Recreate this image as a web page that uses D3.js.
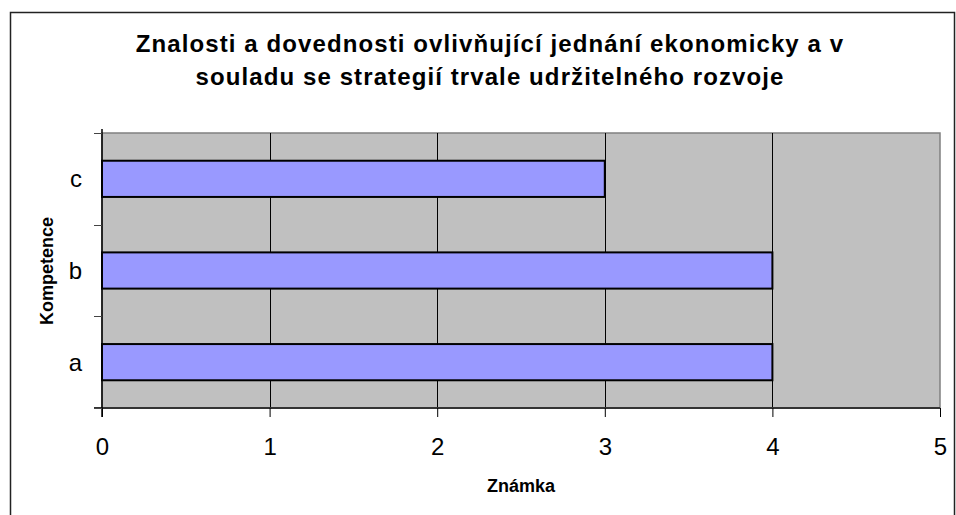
<!DOCTYPE html>
<html>
<head>
<meta charset="utf-8">
<script src="https://cdn.jsdelivr.net/npm/d3@7"></script>
<style>
  body { margin: 0; background: #fff; }
  text { font-family: "Liberation Sans", Arial, sans-serif; }
</style>
</head>
<body>
<div id="chart"></div>
<script>
// data
var categories = ["a", "b", "c"];
var values = [4, 4, 3];
var xTicks = [0, 1, 2, 3, 4, 5];
var titleLines = ["Znalosti a dovednosti ovlivňující jednání ekonomicky a v",
                  "souladu se strategií trvale udržitelného rozvoje"];

var W = 956, H = 515;
var plot = {left: 102, right: 940, top: 133, bottom: 408};

var svg = d3.select("#chart").append("svg")
    .attr("width", W)
    .attr("height", H);

// outer frame
svg.append("rect")
    .attr("x", 10.5).attr("y", 12.5)
    .attr("width", 944).attr("height", 520)
    .attr("fill", "#fff")
    .attr("stroke", "#222")
    .attr("stroke-width", 1.5);

// title
svg.append("g").selectAll("text")
    .data(titleLines)
    .enter()
    .append("text")
      .attr("x", 490)
      .attr("y", function(d, i) { return 52 + i * 33; })
      .attr("text-anchor", "middle")
      .attr("font-size", "24px")
      .attr("font-weight", "bold")
      .attr("letter-spacing", "1.1px")
      .text(function(d) { return d; });

// scales
var x = d3.scaleLinear()
    .domain([0, 5])
    .range([plot.left, plot.right]);

var y = d3.scaleBand()
    .domain(categories.slice().reverse())
    .range([plot.top, plot.bottom])
    .paddingInner(0.605)
    .paddingOuter(0.3025);

// plot background
svg.append("rect")
    .attr("x", plot.left).attr("y", plot.top)
    .attr("width", plot.right - plot.left)
    .attr("height", plot.bottom - plot.top)
    .attr("fill", "#c0c0c0")
    .attr("stroke", "#808080")
    .attr("stroke-width", 1.5);

// vertical gridlines
svg.append("g").selectAll("line")
    .data(xTicks.slice(1, -1))
    .enter()
    .append("line")
      .attr("x1", function(d) { return Math.round(x(d)) + 0.5; })
      .attr("x2", function(d) { return Math.round(x(d)) + 0.5; })
      .attr("y1", plot.top)
      .attr("y2", plot.bottom)
      .attr("stroke", "#000")
      .attr("stroke-width", 1);

// bars
svg.append("g").selectAll("rect")
    .data(categories)
    .enter()
    .append("rect")
      .attr("x", x(0))
      .attr("y", function(d) { return y(d); })
      .attr("width", function(d, i) { return x(values[i]) - x(0); })
      .attr("height", y.bandwidth())
      .attr("fill", "#9999ff")
      .attr("stroke", "#000")
      .attr("stroke-width", 2);

// x axis
var xAxis = svg.append("g")
    .attr("transform", "translate(0," + plot.bottom + ")")
    .call(d3.axisBottom(x).tickValues(xTicks).tickFormat(d3.format("d"))
      .tickSize(9).tickPadding(21).tickSizeOuter(0));
xAxis.select(".domain")
    .attr("stroke", "#333").attr("stroke-width", 2)
    .attr("d", "M" + (plot.left - 8) + ",0H" + plot.right);
xAxis.selectAll(".tick line").attr("stroke", "#000");
xAxis.selectAll("text")
    .attr("font-family", "Liberation Sans, Arial, sans-serif")
    .attr("font-size", "24px")
    .attr("fill", "#000");

// y axis: ticks at band boundaries
var yAxisG = svg.append("g");
yAxisG.append("line")
    .attr("x1", plot.left).attr("x2", plot.left)
    .attr("y1", plot.top - 4).attr("y2", plot.bottom + 9)
    .attr("stroke", "#000").attr("stroke-width", 1.5);
var bounds = d3.range(categories.length + 1).map(function(i) {
  return plot.top + i * (plot.bottom - plot.top) / categories.length;
});
yAxisG.selectAll(".ytick")
    .data(bounds)
    .enter()
    .append("line")
      .attr("x1", plot.left - 8).attr("x2", plot.left)
      .attr("y1", function(d) { return Math.round(d) + 0.5; })
      .attr("y2", function(d) { return Math.round(d) + 0.5; })
      .attr("stroke", "#444").attr("stroke-width", 1);
yAxisG.selectAll(".ylab")
    .data(categories)
    .enter()
    .append("text")
      .attr("x", 82)
      .attr("y", function(d) { return y(d) + y.bandwidth() / 2; })
      .attr("dy", "0.35em")
      .attr("text-anchor", "end")
      .attr("font-size", "24px")
      .text(function(d) { return d; });

// axis titles
svg.append("text")
    .attr("x", 521)
    .attr("y", 492)
    .attr("text-anchor", "middle")
    .attr("font-size", "18px")
    .attr("font-weight", "bold")
    .text("Známka");

svg.append("text")
    .attr("transform", "translate(53,271) rotate(-90)")
    .attr("text-anchor", "middle")
    .attr("font-size", "18px")
    .attr("font-weight", "bold")
    .text("Kompetence");
</script>
</body>
</html>
